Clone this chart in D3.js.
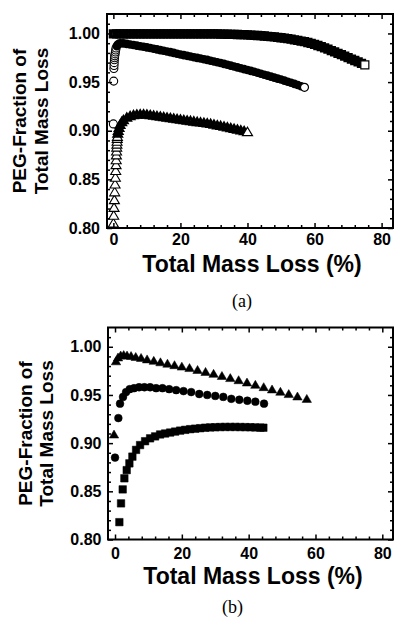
<!DOCTYPE html>
<html lang="en">
<head>
<meta charset="utf-8">
<title>PEG fraction of total mass loss</title>
<script src="https://d3js.org/d3.v7.min.js"></script>
<style>
  body { margin: 0; background: #fff; }
  .tick text { font: bold 16px "Liberation Sans", Arial, sans-serif; fill: #000; }
  .tick line { stroke: #000; stroke-width: 1.5; }
  .title { font: bold 19px "Liberation Sans", Arial, sans-serif; }
  .xtitle { font: bold 23px "Liberation Sans", Arial, sans-serif; }
  .caption { font: 18px "Liberation Serif", "Times New Roman", serif; }
</style>
</head>
<body>
<script>
// tick values
var xMajor = [0, 20, 40, 60, 80];
var xMinor = [4, 8, 12, 16, 24, 28, 32, 36, 44, 48, 52, 56, 64, 68, 72, 76];
var yMajor = [0.80, 0.85, 0.90, 0.95, 1.00];
var yMinor = [0.81, 0.82, 0.83, 0.84, 0.86, 0.87, 0.88, 0.89, 0.91, 0.92, 0.93, 0.94,
              0.96, 0.97, 0.98, 0.99, 1.01];

// panel (a): open markers, dense series
var aSquareX = [0,1,2,3,4,5,6,7,8,9,10,11,12,13,14,15,16,17,18,19,20,21,22,23,24,25,26,27,28,29,
  30,31,32,33,34,35,36,37,38,39,40,41,42,43,44,45,46,47,48,49,50,51,52,53,54,55,56,57,58,59,
  60,61,62,63,64,65,66,67,68,69,70,71,72,73,74,75];
var aSquareY = [0.9995,0.9995,0.9995,0.9995,0.9995,0.9995,0.9995,0.9995,0.9995,0.9995,0.9995,
  0.9996,0.9996,0.9996,0.9996,0.9996,0.9996,0.9996,0.9996,0.9996,0.9996,0.9996,0.9996,0.9996,
  0.9996,0.9996,0.9996,0.9996,0.9996,0.9996,0.9996,0.9995,0.9994,0.9993,0.9992,0.9991,0.9990,
  0.9989,0.9988,0.9987,0.9985,0.9983,0.9981,0.9979,0.9977,0.9974,0.9971,0.9968,0.9964,0.9960,
  0.9956,0.9951,0.9946,0.9941,0.9935,0.9929,0.9922,0.9915,0.9907,0.9899,0.9888,0.9876,0.9864,
  0.9851,0.9838,0.9824,0.9810,0.9796,0.9782,0.9767,0.9752,0.9737,0.9722,0.9707,0.9692,0.9677];

var aCircleX = [0,0.1,0.15,0.2,0.25,0.3,0.35,0.4,0.5,0.6,0.7,0.8,1.0,1.3,1.7,2.2,3,4,5,6,7,8,9,10,
  11,12,13,14,15,16,17,18,19,20,21,22,23,24,25,26,27,28,29,30,31,32,33,34,35,36,37,38,39,40,
  41,42,43,44,45,46,47,48,49,50,51,52,53,54,55,56,57];
var aCircleY = [0.907,0.951,0.964,0.967,0.970,0.973,0.975,0.977,0.979,0.981,0.983,0.985,0.987,
  0.9885,0.9895,0.990,0.9898,0.9893,0.9887,0.9881,0.9875,0.9869,0.9863,0.9857,0.9850,0.9843,
  0.9836,0.9829,0.9822,0.9815,0.9808,0.9800,0.9792,0.9784,0.9777,0.9770,0.9763,0.9756,0.9749,
  0.9742,0.9735,0.9728,0.9720,0.9712,0.9704,0.9696,0.9687,0.9678,0.9669,0.9660,0.9651,0.9642,
  0.9633,0.9624,0.9615,0.9606,0.9596,0.9586,0.9576,0.9566,0.9556,0.9546,0.9536,0.9526,0.9515,
  0.9504,0.9493,0.9482,0.9470,0.9458,0.9446];

var aTriX = [0,0.1,0.2,0.3,0.4,0.5,0.6,0.7,0.8,0.85,0.9,0.95,1.0,1.05,1.1,1.15,1.2,1.3,1.45,1.7,
  2.0,2.5,3,4,5,6,7,8,9,10,11,12,13,14,15,16,17,18,19,20,21,22,23,24,25,26,27,28,29,30,31,32,
  33,34,35,36,37,38,39,40];
var aTriY = [0.805,0.813,0.821,0.829,0.837,0.845,0.852,0.859,0.865,0.870,0.875,0.879,0.883,0.886,
  0.889,0.892,0.894,0.897,0.900,0.903,0.906,0.909,0.911,0.9135,0.915,0.916,0.9165,0.9168,0.9168,
  0.9165,0.9160,0.9155,0.9150,0.9145,0.9140,0.9135,0.9130,0.9125,0.9120,0.9115,0.9110,0.9105,
  0.9100,0.9095,0.9090,0.9085,0.9080,0.9075,0.9070,0.9063,0.9056,0.9049,0.9042,0.9035,0.9028,
  0.9020,0.9012,0.9004,0.8996,0.8988];

// panel (b): filled markers
var bSquareX = [1.3,1.8,2.3,2.8,3.5,4.3,5.2,6.3,7.5,9,10.5,12,13.5,15,16.5,18,19.5,21,22.5,24,
  25.5,27,28.5,30,31.5,33,34.5,36,37.5,39,40.5,42,43.5,44.4];
var bSquareY = [0.818,0.8375,0.852,0.8635,0.872,0.879,0.886,0.893,0.898,0.902,0.905,0.907,0.909,
  0.910,0.911,0.912,0.913,0.9138,0.9145,0.915,0.9155,0.916,0.9163,0.9165,0.9167,0.9168,0.9168,
  0.9168,0.9167,0.9166,0.9165,0.9163,0.9161,0.916];

var bCircleX = [0,1.0,1.5,2.4,3.3,4.4,5.7,7.2,8.8,10.5,12.3,14.2,16.2,18.3,20.5,22.8,25.2,27.6,
  30,32.4,34.8,37.2,39.6,42,44.6];
var bCircleY = [0.885,0.926,0.941,0.948,0.953,0.956,0.957,0.958,0.958,0.958,0.957,0.957,0.956,
  0.955,0.954,0.953,0.951,0.950,0.949,0.948,0.946,0.945,0.944,0.943,0.941];

var bTriX = [-0.3,0.3,0.9,1.7,2.6,3.6,4.8,6.2,7.8,9.6,11.6,13.6,15.7,17.8,20,22.3,24.7,27.1,
  29.5,32,34.5,37,39.5,42,44.5,47,49.5,52,54.6,57.4];
var bTriY = [0.909,0.985,0.989,0.991,0.9915,0.991,0.9905,0.9895,0.9885,0.987,0.9855,0.984,0.9825,
  0.981,0.9795,0.978,0.976,0.974,0.972,0.9698,0.9676,0.9654,0.963,0.9606,0.9582,0.9558,0.9534,
  0.951,0.9485,0.946];

var w = 397, h = 620;
var svg = d3.select("body").append("svg").attr("width", w).attr("height", h);

function markerPath(shape, s) {
  if (shape == "square") return "M" + (-s/2) + "," + (-s/2) + "h" + s + "v" + s + "h" + (-s) + "Z";
  if (shape == "circle") return d3.symbol(d3.symbolCircle, Math.PI * s * s / 4)();
  var t = s * 0.85;
  return "M0," + (-t * 0.55) + "L" + (s/2) + "," + (t * 0.45) + "L" + (-s/2) + "," + (t * 0.45) + "Z";
}

function zip(xs, ys) { return xs.map(function(x, i) { return {x: x, y: ys[i]}; }); }

function drawPanel(p) {
  var xScale = d3.scaleLinear().domain(p.xDom).range([p.left, p.right]);
  var yScale = d3.scaleLinear().domain([0.80, 1.02]).range([p.bottom, p.top]);
  var g = svg.append("g");

  // data markers
  p.series.forEach(function(s) {
    var pts = zip(s.x, s.y);
    var tr = function(d) { return "translate(" + xScale(d.x) + "," + yScale(d.y) + ")"; };
    var sg = g.append("g");
    if (!s.open) {
      sg.selectAll("path").data(pts).enter().append("path")
        .attr("d", markerPath(s.shape, s.size))
        .attr("transform", tr)
        .attr("fill", "#000").attr("stroke", "#000").attr("stroke-width", 0.5);
      return;
    }
    // open markers: the early stacked points and the last one are thin hollow shapes,
    // the run in between overlaps into a solid band
    var last = pts.length - 1;
    var thin = pts.filter(function(d, i) { return i < s.thin; });
    var band = pts.filter(function(d, i) { return i >= s.thin && i < last; });
    sg.append("g").selectAll("path").data(thin).enter().append("path")
      .attr("d", markerPath(s.shape, s.endSize))
      .attr("transform", tr)
      .attr("fill", "#fff").attr("stroke", "#000").attr("stroke-width", 1.1);
    sg.append("g").selectAll("path").data(band).enter().append("path")
      .attr("d", markerPath(s.shape, s.size))
      .attr("transform", tr)
      .attr("fill", "none").attr("stroke", "#000").attr("stroke-width", s.sw);
    sg.append("path").datum(pts[last])
      .attr("d", markerPath(s.shape, s.endSize))
      .attr("transform", tr)
      .attr("fill", "#fff").attr("stroke", "#000").attr("stroke-width", 1.2);
  });

  // axes, ticks pointing inward on all four sides
  function addAxis(axis, tr, labels) {
    var a = g.append("g").attr("transform", tr).call(axis);
    a.select(".domain").remove();
    if (!labels) a.selectAll("text").remove();
    return a;
  }
  var bx = "translate(0," + p.bottom + ")", tx = "translate(0," + p.top + ")";
  var ly = "translate(" + p.left + ",0)", ry = "translate(" + p.right + ",0)";

  addAxis(d3.axisBottom(xScale).tickValues(xMajor).tickSize(-5).tickPadding(p.xPad).tickFormat(d3.format("d")), bx, true);
  addAxis(d3.axisBottom(xScale).tickValues(xMinor).tickSize(-3), bx, false);
  addAxis(d3.axisTop(xScale).tickValues(xMajor).tickSize(-5), tx, false);
  addAxis(d3.axisTop(xScale).tickValues(xMinor).tickSize(-3), tx, false);
  addAxis(d3.axisLeft(yScale).tickValues(yMajor).tickSize(-5).tickPadding(p.yPad).tickFormat(d3.format(".2f")), ly, true);
  addAxis(d3.axisLeft(yScale).tickValues(yMinor).tickSize(-3), ly, false);
  addAxis(d3.axisRight(yScale).tickValues(yMajor).tickSize(-5), ry, false);
  addAxis(d3.axisRight(yScale).tickValues(yMinor).tickSize(-3), ry, false);

  // frame
  g.append("rect")
    .attr("x", p.left).attr("y", p.top)
    .attr("width", p.right - p.left).attr("height", p.bottom - p.top)
    .attr("fill", "none").attr("stroke", "#000").attr("stroke-width", 2);

  // titles
  var cy = (p.top + p.bottom) / 2;
  g.append("text").attr("class", "title")
    .attr("transform", "translate(" + p.yt1 + "," + cy + ") rotate(-90)")
    .attr("text-anchor", "middle").text("PEG-Fraction of");
  g.append("text").attr("class", "title")
    .attr("transform", "translate(" + p.yt2 + "," + cy + ") rotate(-90)")
    .attr("text-anchor", "middle").text("Total Mass Loss");
  g.append("text").attr("class", "xtitle")
    .attr("x", p.xtX).attr("y", p.xtY)
    .attr("text-anchor", "middle").text("Total Mass Loss (%)");
  g.append("text").attr("class", "caption")
    .attr("x", p.capX).attr("y", p.capY)
    .attr("text-anchor", "middle").text(p.caption);
}

drawPanel({
  left: 107, right: 393, top: 14, bottom: 228, xDom: [-1.9, 83.4],
  xPad: 6, yPad: 7, yt1: 26, yt2: 48, xtX: 252, xtY: 272,
  capX: 242, capY: 307, caption: "(a)",
  series: [
    {x: aSquareX, y: aSquareY, shape: "square", size: 6, endSize: 8, sw: 3.3, thin: 0, open: true},
    {x: aCircleX, y: aCircleY, shape: "circle", size: 5.6, endSize: 8, sw: 3.0, thin: 12, open: true},
    {x: aTriX, y: aTriY, shape: "triangle", size: 7.2, endSize: 10, sw: 2.8, thin: 17, open: true}
  ]
});

drawPanel({
  left: 108, right: 393, top: 327.5, bottom: 539.5, xDom: [-2.1, 83.2],
  xPad: 8.5, yPad: 6.5, yt1: 32, yt2: 53, xtX: 253, xtY: 584,
  capX: 232.5, capY: 613, caption: "(b)",
  series: [
    {x: bSquareX, y: bSquareY, shape: "square", size: 7.5, open: false},
    {x: bCircleX, y: bCircleY, shape: "circle", size: 7.8, open: false},
    {x: bTriX, y: bTriY, shape: "triangle", size: 9.4, open: false}
  ]
});
</script>
</body>
</html>
